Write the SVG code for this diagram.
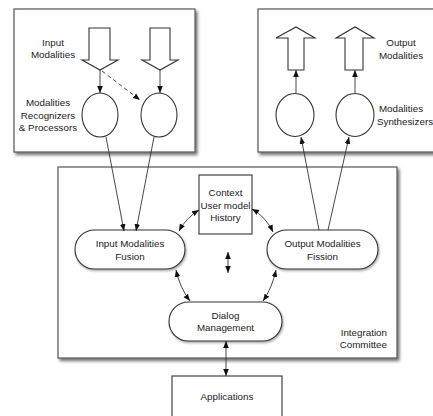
<svg xmlns="http://www.w3.org/2000/svg" width="433" height="416" viewBox="0 0 433 416">
  <defs>
    <filter id="shadow" x="-10%" y="-10%" width="130%" height="130%">
      <feDropShadow dx="2" dy="2.5" stdDeviation="1.5" flood-color="#000" flood-opacity="0.55"/>
    </filter>
    <filter id="softshadow" x="-10%" y="-10%" width="130%" height="140%">
      <feDropShadow dx="1" dy="1.5" stdDeviation="1" flood-color="#000" flood-opacity="0.35"/>
    </filter>
    <marker id="arr" viewBox="0 0 10 10" refX="10" refY="5" markerWidth="7" markerHeight="7" markerUnits="userSpaceOnUse" orient="auto-start-reverse">
      <path d="M0,1 L10,5 L0,9 z" fill="#111"/>
    </marker>
  </defs>
  <style>
    .box { fill: #fff; stroke: #555; stroke-width: 1.2; }
    .node { fill: #fff; stroke: #333; stroke-width: 1.1; }
    .big { fill: #fff; stroke: #333; stroke-width: 1.1; stroke-linejoin: miter; }
    .edge { fill: none; stroke: #333; stroke-width: 0.9; }
    .dash { stroke-dasharray: 4 3; }
    text { font-family: "Liberation Sans", Arial, sans-serif; font-size: 9.8px; fill: #222; }
    .c { text-anchor: middle; }
    .r { text-anchor: end; }
  </style>

  <!-- containers -->
  <g id="input-panel">
    <rect class="box" x="14" y="9" width="181" height="143" filter="url(#shadow)"/>
  </g>
  <g id="output-panel">
    <rect class="box" x="258" y="9" width="190" height="143" filter="url(#shadow)"/>
  </g>
  <g id="integration-committee">
    <rect class="box" x="58" y="167" width="339" height="191" filter="url(#shadow)"/>
    <text class="r" x="387" y="336">Integration</text>
    <text class="r" x="387" y="348">Committee</text>
  </g>

  <!-- input side -->
  <g id="input-modalities">
    <polygon class="big" points="89,28 110,28 110,60 118,60 100,70 82,60 89,60"/>
    <polygon class="big" points="150,28 170,28 170,60 178,60 160,70 142,60 150,60"/>
    <text class="c" x="53" y="46">Input</text>
    <text class="c" x="53" y="58">Modalities</text>
  </g>
  <g id="recognizers">
    <ellipse class="node" cx="100" cy="115" rx="18" ry="22"/>
    <ellipse class="node" cx="159" cy="115" rx="18" ry="22"/>
    <text class="c" x="48" y="106">Modalities</text>
    <text class="c" x="48" y="119">Recognizers</text>
    <text class="c" x="48" y="131">&amp; Processors</text>
  </g>

  <!-- output side -->
  <g id="output-modalities">
    <polygon class="big" points="288,70 304,70 304,38 315,38 296,27 276,38 288,38"/>
    <polygon class="big" points="345,70 363,70 363,38 374,38 355,27 336,38 345,38"/>
    <text class="c" x="401" y="46">Output</text>
    <text class="c" x="401" y="59">Modalities</text>
  </g>
  <g id="synthesizers">
    <ellipse class="node" cx="295" cy="115" rx="19" ry="21.5"/>
    <ellipse class="node" cx="355" cy="115" rx="19" ry="21.5"/>
    <text class="c" x="401" y="112">Modalities</text>
    <text class="c" x="405" y="125">Synthesizers</text>
  </g>

  <!-- integration components -->
  <g id="context">
    <rect class="node" x="199" y="175" width="53" height="59"/>
    <text class="c" x="225.5" y="196">Context</text>
    <text class="c" x="225.5" y="209">User model</text>
    <text class="c" x="225.5" y="221">History</text>
  </g>
  <g id="fusion">
    <rect class="node" x="75" y="230" width="110" height="39" rx="19.5" filter="url(#softshadow)"/>
    <text class="c" x="130" y="247">Input Modalities</text>
    <text class="c" x="130" y="260">Fusion</text>
  </g>
  <g id="fission">
    <rect class="node" x="267" y="230" width="111" height="39" rx="19.5" filter="url(#softshadow)"/>
    <text class="c" x="322.5" y="247">Output Modalities</text>
    <text class="c" x="322.5" y="260">Fission</text>
  </g>
  <g id="dialog">
    <rect class="node" x="169" y="302" width="113" height="39" rx="19.5" filter="url(#softshadow)"/>
    <text class="c" x="225.5" y="319">Dialog</text>
    <text class="c" x="225.5" y="331">Management</text>
  </g>
  <g id="applications">
    <rect class="node" x="172" y="376" width="110" height="50"/>
    <text class="c" x="227" y="400">Applications</text>
  </g>

  <!-- connectors -->
  <g id="connectors">
    <line class="edge" x1="100" y1="70" x2="100" y2="93" marker-end="url(#arr)"/>
    <line class="edge" x1="160" y1="70" x2="160" y2="93" marker-end="url(#arr)"/>
    <line class="edge dash" x1="102" y1="71" x2="140" y2="100" marker-end="url(#arr)"/>

    <line class="edge" x1="106" y1="137" x2="124" y2="231" marker-end="url(#arr)"/>
    <line class="edge" x1="154" y1="137" x2="136" y2="231" marker-end="url(#arr)"/>

    <line class="edge" x1="296" y1="93" x2="296" y2="70" marker-end="url(#arr)"/>
    <line class="edge" x1="355" y1="93" x2="355" y2="70" marker-end="url(#arr)"/>

    <line class="edge" x1="319" y1="230" x2="301" y2="137" marker-end="url(#arr)"/>
    <line class="edge" x1="328" y1="230" x2="349" y2="137" marker-end="url(#arr)"/>

    <path class="edge" d="M179,231 Q186,218 199,210" marker-start="url(#arr)" marker-end="url(#arr)"/>
    <path class="edge" d="M252,209 Q266,217 273,232" marker-start="url(#arr)" marker-end="url(#arr)"/>
    <path class="edge" d="M176,270 Q180,288 190,301" marker-start="url(#arr)" marker-end="url(#arr)"/>
    <path class="edge" d="M276,270 Q272,288 263,301" marker-start="url(#arr)" marker-end="url(#arr)"/>

    <line class="edge" x1="228" y1="252" x2="228" y2="273" marker-start="url(#arr)" marker-end="url(#arr)"/>
    <line class="edge" x1="226" y1="341" x2="226" y2="376" marker-start="url(#arr)" marker-end="url(#arr)"/>
  </g>
</svg>
